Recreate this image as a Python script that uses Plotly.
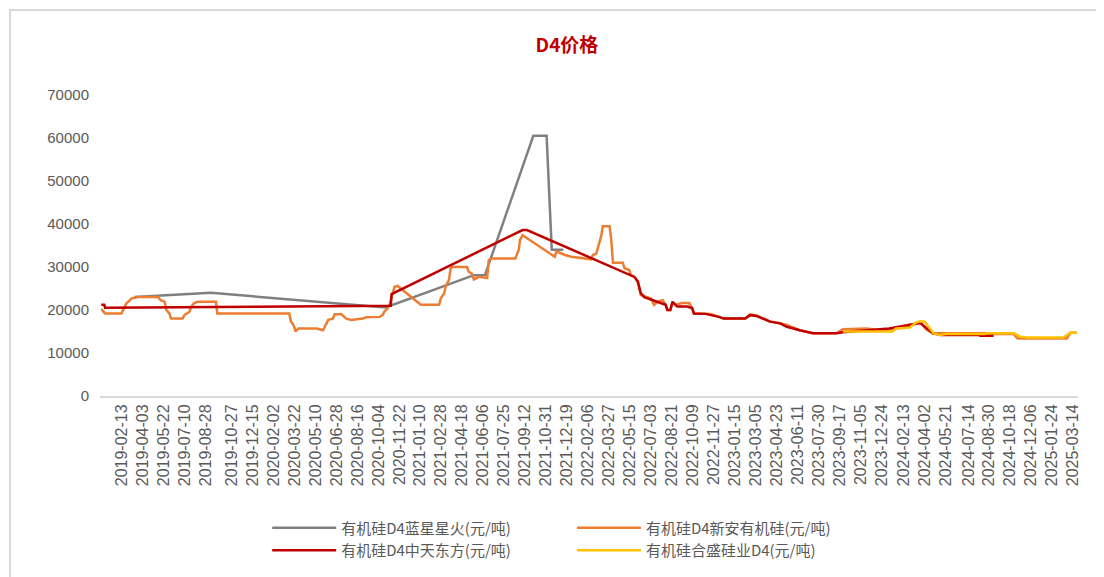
import plotly.graph_objects as go

# x-axis tick labels (category-style dates shown on the chart)
tick_dates = [
    "2019-02-13", "2019-04-03", "2019-05-22", "2019-07-10", "2019-08-28", "2019-10-27",
    "2019-12-15", "2020-02-02", "2020-03-22", "2020-05-10", "2020-06-28", "2020-08-16",
    "2020-10-04", "2020-11-22", "2021-01-10", "2021-02-28", "2021-04-18", "2021-06-06",
    "2021-07-25", "2021-09-12", "2021-10-31", "2021-12-19", "2022-02-06", "2022-03-27",
    "2022-05-15", "2022-07-03", "2022-08-21", "2022-10-09", "2022-11-27", "2023-01-15",
    "2023-03-05", "2023-04-23", "2023-06-11", "2023-07-30", "2023-09-17", "2023-11-05",
    "2023-12-24", "2024-02-13", "2024-04-02", "2024-05-21", "2024-07-14", "2024-08-30",
    "2024-10-18", "2024-12-06", "2025-01-24", "2025-03-14",
]
y_ticks = [0, 10000, 20000, 30000, 40000, 50000, 60000, 70000]

# 有机硅D4蓝星星火
lanxing_dates = ["2019-03-14", "2019-09-09", "2020-10-21", "2021-05-03", "2021-05-15",
                 "2021-06-10", "2021-10-01", "2021-11-01", "2021-11-13", "2021-12-10"]
lanxing_vals = [23000, 24000, 20600, 27700, 28100, 28100, 60500, 60500, 34000, 34000]

# 有机硅D4新安有机硅
xinan_dates = [
    "2018-12-27", "2019-01-05", "2019-02-12", "2019-02-24", "2019-02-28", "2019-03-08",
    "2019-03-23", "2019-05-08", "2019-05-16", "2019-05-24", "2019-05-28", "2019-06-04",
    "2019-06-08", "2019-07-05", "2019-07-09", "2019-07-21", "2019-07-25", "2019-08-01",
    "2019-08-09", "2019-09-21", "2019-09-24", "2020-03-10", "2020-03-14", "2020-03-20",
    "2020-03-25", "2020-03-31", "2020-05-13", "2020-05-28", "2020-06-01", "2020-06-09",
    "2020-06-20", "2020-06-24", "2020-07-10", "2020-07-21", "2020-08-02", "2020-08-29",
    "2020-09-06", "2020-10-07", "2020-10-14", "2020-10-18", "2020-10-26", "2020-10-30",
    "2020-11-11", "2020-11-18", "2021-01-11", "2021-02-23", "2021-02-27", "2021-03-07",
    "2021-03-10", "2021-03-18", "2021-03-22", "2021-03-26", "2021-04-29", "2021-05-03",
    "2021-05-11", "2021-05-15", "2021-05-27", "2021-06-15", "2021-06-19", "2021-06-27",
    "2021-08-20", "2021-08-24", "2021-08-28", "2021-08-31", "2021-09-06", "2021-11-20",
    "2021-11-24", "2021-12-14", "2021-12-29", "2022-02-13", "2022-02-17", "2022-02-25",
    "2022-03-09", "2022-03-12", "2022-03-28", "2022-04-01", "2022-04-05", "2022-04-28",
    "2022-05-02", "2022-05-13", "2022-05-17", "2022-05-25", "2022-06-02", "2022-06-09",
    "2022-07-03", "2022-07-10", "2022-07-18", "2022-07-30", "2022-08-06", "2022-08-10",
    "2022-08-17", "2022-08-22", "2022-08-29", "2022-09-13", "2022-09-30", "2022-10-07",
    "2022-10-11", "2022-11-19", "2022-12-08", "2022-12-20", "2023-02-08", "2023-02-19",
    "2023-03-07", "2023-03-22", "2023-04-07", "2023-04-30", "2023-05-16", "2023-06-15",
    "2023-07-01", "2023-07-16", "2023-09-09", "2023-09-24", "2023-11-18", "2023-12-20",
    "2024-02-20", "2024-03-10", "2024-03-25", "2024-04-05", "2024-04-21", "2024-08-20",
    "2024-09-10", "2024-10-27", "2024-11-05", "2025-02-28", "2025-03-08", "2025-03-23",
]
xinan_vals = [
    20200, 19200, 19200, 21600, 21900, 22700,
    23000, 23000, 22200, 21900, 20000, 19200,
    18000, 18000, 18800, 19600, 20800, 21600,
    21900, 21900, 19200, 19200, 17300, 16500,
    15000, 15700, 15700, 15300, 16100, 17700,
    18000, 19000, 19000, 18000, 17700, 18000,
    18300, 18400, 18800, 19600, 20400, 21200,
    25400, 25600, 21200, 21200, 22700, 23900,
    25400, 27000, 29700, 30000, 30000, 28900,
    28400, 27100, 27700, 27400, 31600, 32000,
    32000, 33100, 34000, 36300, 37400, 32400,
    33600, 32800, 32400, 31800, 32800, 33100,
    37400, 39500, 39500, 36300, 31000, 31000,
    29700, 29300, 28100, 27700, 26600, 23500,
    22700, 21200, 21900, 22300, 21200, 20000,
    20000, 21900, 21200, 21600, 21600, 20400,
    19200, 19100, 18400, 18000, 18000, 19000,
    18700, 18000, 17300, 16900, 16500, 15300,
    14900, 14600, 14600, 15500, 15700, 15300,
    16000, 16800, 17000, 15500, 14600, 14600,
    14400, 14400, 13400, 13400, 14700, 14700,
]

# 有机硅D4中天东方
zhongtian_dates = [
    "2018-12-27", "2019-01-03", "2019-01-05", "2020-03-20", "2020-11-02", "2020-11-04",
    "2021-09-06", "2021-09-16", "2022-05-25", "2022-06-02", "2022-06-09", "2022-06-17",
    "2022-08-06", "2022-08-10", "2022-08-17", "2022-08-22", "2022-08-29", "2022-09-02",
    "2022-09-26", "2022-10-07", "2022-10-11", "2022-11-07", "2022-12-08", "2022-12-20",
    "2023-02-08", "2023-02-19", "2023-03-07", "2023-03-22", "2023-04-07", "2023-04-30",
    "2023-05-16", "2023-06-15", "2023-07-01", "2023-07-16", "2023-09-09", "2023-09-24",
    "2024-01-10", "2024-03-05", "2024-03-22", "2024-04-21", "2024-05-10", "2024-08-06",
    "2024-08-10", "2024-09-10",
]
zhongtian_vals = [
    21200, 21200, 20500, 20800, 21000, 23700,
    38600, 38600, 27700, 26600, 23900, 23000,
    21200, 20000, 20000, 21900, 21200, 20800,
    20800, 20400, 19200, 19100, 18400, 18000,
    18000, 18800, 18600, 18000, 17300, 16900,
    16100, 15300, 14900, 14600, 14600, 14800,
    15700, 16700, 17000, 14600, 14200, 14200,
    14000, 14000,
]

# 有机硅合盛硅业D4
hesheng_dates = [
    "2023-09-24", "2024-01-18", "2024-01-26", "2024-02-27", "2024-03-10", "2024-03-22",
    "2024-04-02", "2024-04-10", "2024-04-22", "2024-05-07", "2024-05-22", "2024-08-20",
    "2024-08-25", "2024-10-27", "2024-11-11", "2024-11-27", "2025-02-20", "2025-02-28",
    "2025-03-08", "2025-03-23",
]
hesheng_vals = [
    15000, 15000, 15700, 15900, 16900, 17400,
    17300, 16100, 14600, 14200, 14400, 14400,
    14600, 14600, 13800, 13600, 13600, 14200,
    14700, 14700,
]

# (name, dates, values, colour, legend column)
series = [
    ("有机硅D4蓝星星火(元/吨)", lanxing_dates, lanxing_vals, "#808080", "legend"),
    ("有机硅D4新安有机硅(元/吨)", xinan_dates, xinan_vals, "#ED7D31", "legend2"),
    ("有机硅D4中天东方(元/吨)", zhongtian_dates, zhongtian_vals, "#C00000", "legend"),
    ("有机硅合盛硅业D4(元/吨)", hesheng_dates, hesheng_vals, "#FFC000", "legend2"),
]

fig = go.Figure()
for name, xs, ys, color, leg in series:
    fig.add_trace(go.Scatter(
        x=xs, y=ys, mode="lines", name=name, legend=leg,
        line=dict(color=color, width=2.5),
    ))

# light frame around the chart area
fig.add_shape(type="rect", xref="paper", yref="paper",
              x0=-0.092, x1=1.2, y0=-1.0, y1=1.282,
              line=dict(color="#D9D9D9", width=2), layer="below")

legend_style = dict(
    orientation="v", yref="container", xref="container", xanchor="left",
    y=0.115, yanchor="top", itemwidth=64, tracegroupgap=0,
    font=dict(family="Noto Sans CJK SC", size=15, color="#595959"),
    traceorder="normal", bgcolor="rgba(0,0,0,0)",
)

fig.update_layout(
    width=1096, height=569,
    margin=dict(l=92, r=26, t=87, b=181, autoexpand=False),
    paper_bgcolor="white", plot_bgcolor="white",
    title=dict(text="<b>D4价格</b>", x=0.51, xref="container", xanchor="center",
               y=0.935, yanchor="middle",
               font=dict(family="Noto Sans CJK SC", size=19, color="#C00000")),
    font=dict(family="Liberation Sans, Arial", color="#595959"),
    xaxis=dict(
        type="date", range=["2018-12-24", "2025-03-26"],
        tickvals=tick_dates, ticktext=tick_dates, tickangle=-90,
        tickfont=dict(size=16, color="#595959"),
        showgrid=False, zeroline=False, ticks="", automargin=False,
        showline=True, linecolor="#D9D9D9", linewidth=2,
    ),
    yaxis=dict(
        range=[0, 70000], tickvals=y_ticks, tickformat="d",
        tickfont=dict(size=15, color="#595959"),
        showgrid=False, zeroline=False, showline=False, ticks="",
        ticklabelstandoff=10, automargin=False,
    ),
    legend=dict(x=0.2365, **legend_style),
    legend2=dict(x=0.5145, **legend_style),
    showlegend=True,
)

fig.write_html("out.html")
